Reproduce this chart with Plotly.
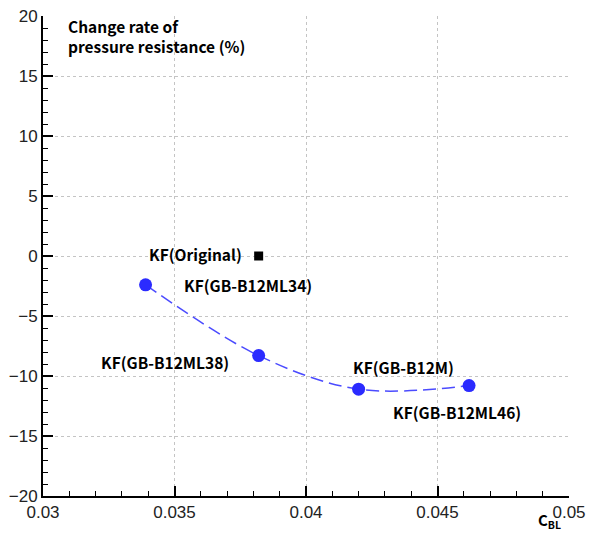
import plotly.graph_objects as go

# Data
orig_x = [0.0382]
orig_y = [0.0]
orig_name = "KF(Original)"

cbl = [0.0339, 0.0382, 0.0420, 0.0462]
change = [-2.4, -8.3, -11.1, -10.8]
names = ["KF(GB-B12ML34)", "KF(GB-B12ML38)", "KF(GB-B12M)", "KF(GB-B12ML46)"]

x_ticks = [0.03, 0.035, 0.04, 0.045, 0.05]
x_ticklabels = ["0.03", "0.035", "0.04", "0.045", "0.05"]
y_ticks = [-20, -15, -10, -5, 0, 5, 10, 15, 20]

fig = go.Figure()

fig.add_trace(go.Scatter(
    x=cbl, y=change, mode="lines+markers",
    line=dict(color="#4b4bff", width=1.5, dash="13px,6px", shape="spline", smoothing=1.0),
    marker=dict(color="#2b2bff", size=13, symbol="circle"),
    showlegend=False, hoverinfo="skip"))

fig.add_trace(go.Scatter(
    x=orig_x, y=orig_y, mode="markers",
    marker=dict(color="black", size=9, symbol="square"),
    showlegend=False, hoverinfo="skip"))

lab_family = "Noto Sans CJK KR, Open Sans, sans-serif"
label_font = dict(family=lab_family, size=15.5, color="black")

# label placements relative to points (pixel offsets)
offsets = [("left", 36, 0), ("right", -28, -6), ("left", -8, 22), ("left", -78, -26)]
for xv, yv, nm, (anc, dx, dy) in zip(cbl, change, names, offsets):
    fig.add_annotation(x=xv, y=yv, text="<b>" + nm + "</b>", showarrow=False,
                       xanchor=anc, yanchor="middle", xshift=dx, yshift=dy, font=label_font)
fig.add_annotation(x=orig_x[0], y=orig_y[0], text="<b>" + orig_name + "</b>", showarrow=False,
                   xanchor="right", yanchor="middle", xshift=-15, yshift=2, font=label_font)

# Axis titles
fig.add_annotation(xref="paper", yref="paper", x=0.043, y=1.006, xanchor="left", yanchor="top",
                   align="left", showarrow=False,
                   text="<b>Change rate of<br>pressure resistance (%)</b>",
                   font=dict(family=lab_family, size=15.5, color="black"))
fig.add_annotation(xref="paper", yref="paper", x=0.962, y=-0.079, xanchor="center", yanchor="bottom",
                   showarrow=False,
                   text="<b>C<sub>BL</sub></b>",
                   font=dict(family=lab_family, size=15, color="black"))

axis_font = dict(family="Liberation Sans, Arial, sans-serif", size=17, color="#222")

common = dict(showline=True, linecolor="black", linewidth=2,
              ticks="inside", ticklen=10, tickwidth=2, tickcolor="black",
              showgrid=True, gridcolor="#c4c4c4", griddash="dot", gridwidth=1,
              zeroline=False, tickfont=axis_font, automargin=False)

fig.update_xaxes(range=[0.03, 0.05], tickvals=x_ticks, ticktext=x_ticklabels,
                 minor=dict(ticks="inside", ticklen=5, tickwidth=1, tickcolor="black", dtick=0.001, showgrid=False),
                 **common)
fig.update_yaxes(range=[-20, 20], tickvals=y_ticks,
                 minor=dict(ticks="inside", ticklen=5, tickwidth=1, tickcolor="black", dtick=1, showgrid=False),
                 **common)

fig.update_layout(width=589, height=536, margin=dict(l=43, r=20, t=16, b=40),
                  plot_bgcolor="white", paper_bgcolor="white")

fig.write_html("out.html")
